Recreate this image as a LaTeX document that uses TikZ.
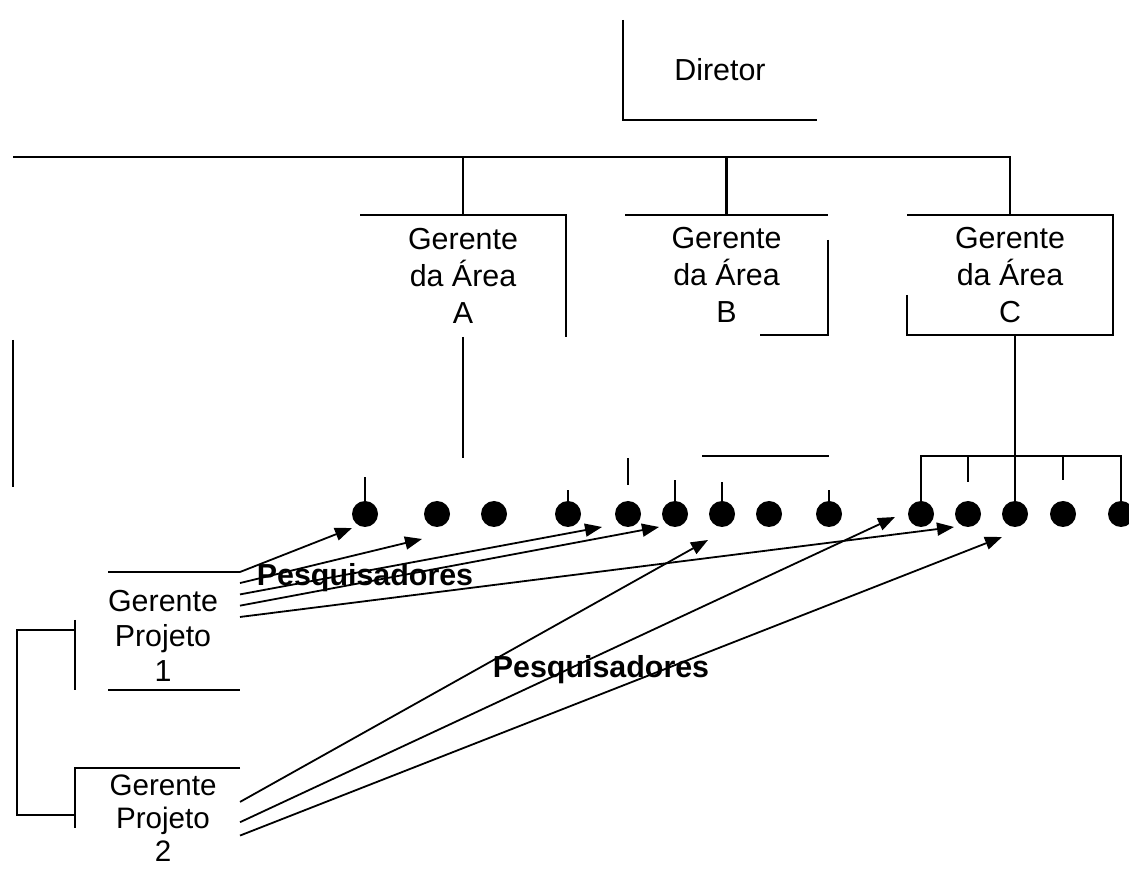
\documentclass[tikz,border=0pt]{standalone}
\usepackage{fontspec}
\setmainfont{Liberation Sans}
\usetikzlibrary{arrows.meta,positioning,calc}

\begin{document}
\begin{tikzpicture}[
    x=0.5pt,y=-0.5pt,
    cx/.style  = {rectangle,inner sep=0pt,outer sep=0pt,align=center,
                  font=\fontsize{15.2}{18.6}\selectfont},
    tx/.style  = {inner sep=0pt,align=center,font=\fontsize{15.2}{17.5}\selectfont},
    pq/.style  = {circle,fill=black,inner sep=0pt,minimum size=13pt},
    ln/.style  = {line width=1.1pt},
    fl/.style  = {-{Triangle[length=8.5pt,width=6.5pt]},line width=0.9pt},
    tag/.style = {font=\fontsize{15.2}{18}\selectfont\bfseries,inner sep=0pt},
  ]
  \useasboundingbox (0,0) rectangle (1129,870);

  \node[cx,minimum width=97pt,minimum height=50pt]    (dir) at (720,70)    {Diretor};
  \node[cx,minimum width=103pt,minimum height=61pt]   (gA)  at (463,276)   {Gerente\\da Área\\A};
  \node[cx,minimum width=101.5pt,minimum height=60pt] (gB)  at (726.5,275) {Gerente\\da Área\\B};
  \node[cx,minimum width=103pt,minimum height=60pt]   (gC)  at (1010,275)  {Gerente\\da Área\\C};

  \node[cx,minimum width=66pt,minimum height=59pt]   (gp1) at (174,631)   {};
  \node[cx,minimum width=82.5pt,minimum height=47pt] (gp2) at (157.5,815) {};
  \node[tx] (gp1t) at (163,636) {Gerente\\Projeto\\1};
  \node[tx,font=\fontsize{14.8}{16.6}\selectfont] (gp2t) at (163,818) {Gerente\\Projeto\\2};

  % pesquisadores
  \node[pq] (p1)  at (365,514)  {};
  \node[pq] (p2)  at (437,514)  {};
  \node[pq] (p3)  at (494,514)  {};
  \node[pq] (p4)  at (568,514)  {};
  \node[pq] (p5)  at (628,514)  {};
  \node[pq] (p6)  at (675,514)  {};
  \node[pq] (p7)  at (722,514)  {};
  \node[pq] (p8)  at (769,514)  {};
  \node[pq] (p9)  at (829,514)  {};
  \node[pq] (p10) at (921,514)  {};
  \node[pq] (p11) at (968,514)  {};
  \node[pq] (p12) at (1015,514) {};
  \node[pq] (p13) at (1063,514) {};
  \node[pq] (p14) at (1121,514) {};

  % contornos parciais
  \draw[ln] (dir.north west) -- (dir.south west) -- (dir.south east);
  \draw[ln] (gA.north west) -- (gA.north east) -- (gA.south east);
  \draw[ln] (gB.north west) -- (gB.north east);
  \draw[ln] ([yshift=-12.5pt]gB.north east) -- (gB.south east) -- ([xshift=-34pt]gB.south east);
  \draw[ln] ([yshift=20pt]gC.south west) -- (gC.south west) -- (gC.south east)
            -- (gC.north east) -- (gC.north west);
  \draw[ln] (gp1.north west) -- (gp1.north east);
  \draw[ln] (gp1.south west) -- (gp1.south east);
  \draw[ln] (gp2.north east) -- (gp2.north west) -- ([yshift=-6.5pt]gp2.west);

  % barramento principal
  \coordinate (busL) at (13,157);
  \draw[ln] (busL) -| (gC.north);
  \draw[ln] (gA.north |- busL) -- (gA.north);
  \draw[ln] (gB.north |- busL) -- (gB.north);
  \draw[ln] (13,340) -- (13,487);

  % colchete dos gerentes de projeto
  \draw[ln] (75,620) -- (75,690);
  \draw[ln] (75,630) -- (17,630) -- (17,815) -- (gp2.west);

  % ligacoes areas -> pesquisadores
  \draw[ln] (gA.south) -- ++(0,121);
  \coordinate (bB) at (702,456);
  \draw[ln] (bB) -- (bB -| p9.north);
  \coordinate (cC) at (1015,456);
  \draw[ln] (p12.north |- gC.south) -- (p12.north);
  \draw[ln] (p10.north) |- (cC) -| (p14.north);
  \draw[ln] (p11.north |- cC) -- ++(0,26);
  \draw[ln] (p13.north |- cC) -- ++(0,24);
  \draw[ln] (p1.north) -- ++(0,-24);
  \draw[ln] (p4.north) -- ++(0,-11);
  \draw[ln] (p5.north) ++(0,-16) -- ++(0,-27);
  \draw[ln] (p6.north) -- ++(0,-21);
  \draw[ln] (p7.north) -- ++(0,-19);
  \draw[ln] (p9.north) -- ++(0,-11);

  % alocacao aos projetos
  \coordinate (t1) at (352,528);
  \coordinate (t2) at (422,539);
  \coordinate (t3) at (602,527);
  \coordinate (t4) at (659,527);
  \coordinate (t5) at (954,527);
  \coordinate (t6) at (708,540);
  \coordinate (t7) at (895,517);
  \coordinate (t8) at (1002,537);

  \draw[fl] (gp1.north east) -- (t1);
  \draw[fl] (gp1.36.6) -- (t2);
  \draw[fl] (gp1.29.9) -- (t3);
  \draw[fl] (gp1.21.5) -- (t4);
  \draw[fl] (gp1.12)   -- (t5);
  \draw[fl] (gp2.9)    -- (t6);
  \draw[fl] (gp2.-5.5) -- (t7);
  \draw[fl] (gp2.-14.9) -- (t8);

  \node[tag] (pqa) at (365,578) {Pesquisadores};
  \node[tag] (pqb) at (601,670) {Pesquisadores};

\end{tikzpicture}
\end{document}
